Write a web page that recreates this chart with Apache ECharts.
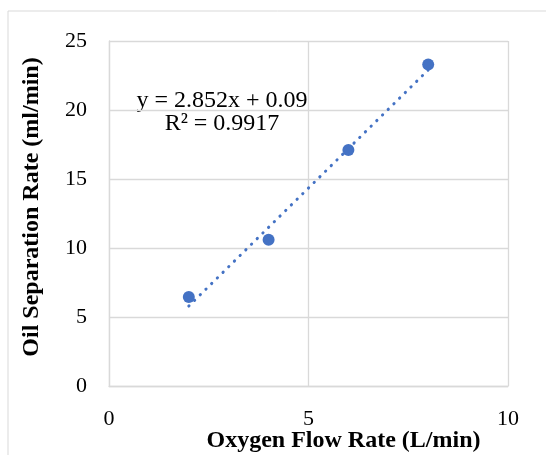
<!DOCTYPE html>
<html>
<head>
<meta charset="utf-8">
<script src="https://cdn.jsdelivr.net/npm/echarts@6/dist/echarts.min.js"></script>
<style>
  html, body { margin: 0; padding: 0; background: #fff; }
  #chart { width: 546px; height: 455px; }
</style>
</head>
<body>
<div id="chart"></div>
<script>
// oxygen flow rate (L/min) vs oil separation rate (ml/min)
var flowRates = [2, 4, 6, 8];
var separationRates = [6.45, 10.6, 17.1, 23.3];
// linear trendline as printed on the chart
var trendSlope = 2.852;
var trendIntercept = 0.09;
var trendLabel = ["y = 2.852x + 0.09", "R² = 0.9917"];

var points = flowRates.map(function (x, i) { return [x, separationRates[i]]; });
var xFirst = flowRates[0], xLast = flowRates[flowRates.length - 1];
var trend = [
  [xFirst, trendSlope * xFirst + trendIntercept],
  [xLast, trendSlope * xLast + trendIntercept]
];

var serif = "'Liberation Serif', 'Times New Roman', serif";
var gridColor = "#d9d9d9";
var blue = "#4472C4";

var chart = echarts.init(document.getElementById("chart"));
chart.setOption({
  animation: false,
  grid: { left: 109, right: 38, top: 41, bottom: 69, outerBoundsMode: "none", containLabel: false },
  graphic: [
    {
      type: "rect",
      shape: { x: 8, y: 11, width: 700, height: 600 },
      style: { fill: null, stroke: gridColor, lineWidth: 1 },
      silent: true
    },
    {
      type: "text",
      x: 222, y: 89,
      style: {
        text: trendLabel.join("\n"),
        font: "24px " + serif,
        lineHeight: 23,
        fill: "#000",
        align: "center",
        verticalAlign: "top"
      }
    }
  ],
  xAxis: {
    type: "value",
    min: 0, max: 10, interval: 5,
    name: "Oxygen Flow Rate (L/min)",
    nameLocation: "middle",
    nameGap: 43,
    nameMoveOverlap: false,
    nameTextStyle: { fontFamily: serif, fontSize: 24, fontWeight: "bold", color: "#000", padding: [0, 0, 0, 70] },
    axisLine: { show: true, lineStyle: { color: gridColor, width: 1.3 } },
    axisTick: { show: false },
    axisLabel: { fontFamily: serif, fontSize: 22, color: "#000", margin: 22 },
    splitLine: { show: true, lineStyle: { color: gridColor, width: 1.3 } }
  },
  yAxis: {
    type: "value",
    min: 0, max: 25, interval: 5,
    name: "Oil Separation Rate (ml/min)",
    nameLocation: "middle",
    nameGap: 65,
    nameTextStyle: { fontFamily: serif, fontSize: 24, fontWeight: "bold", color: "#000", padding: [0, 0, 0, 13] },
    axisLine: { show: true, lineStyle: { color: gridColor, width: 1.3 } },
    axisTick: { show: false },
    axisLabel: { fontFamily: serif, fontSize: 22, color: "#000", margin: 22 },
    splitLine: { show: true, lineStyle: { color: gridColor, width: 1.3 } }
  },
  series: [
    {
      type: "line",
      data: trend,
      showSymbol: false,
      silent: true,
      lineStyle: { color: blue, width: 3, type: [0.3, 7.7], cap: "round" },
      z: 2
    },
    {
      type: "scatter",
      data: points,
      symbolSize: 12,
      itemStyle: { color: blue, opacity: 1 },
      z: 3
    }
  ]
});
window.addEventListener("resize", function () { chart.resize(); });
</script>
</body>
</html>
